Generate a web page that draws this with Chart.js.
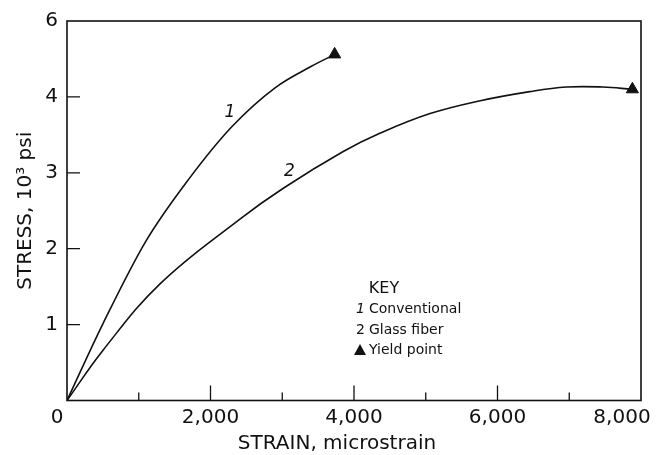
<!DOCTYPE html>
<html>
<head>
<meta charset="utf-8">
<script src="https://cdn.jsdelivr.net/npm/chart.js@4.4.1/dist/chart.umd.min.js"></script>
<style>
    body { margin: 0; background: #fff; }
    #wrap { width: 665px; height: 455px; }
</style>
</head>
<body>
<div id="wrap"><canvas id="stressChart" width="665" height="455"></canvas></div>
<script>
// Stress-strain curves, values
const conventionalStrain = [0, 500, 1100, 1700, 2300, 2900, 3400, 3730];
const conventionalStress = [0, 1.01, 2.10, 2.92, 3.61, 4.12, 4.40, 4.56];

const glassStrain = [0, 500, 1300, 2410, 3020, 3850, 4360, 5060, 5760, 6450, 6960, 7470, 7880];
const glassStress = [0, 0.66, 1.54, 2.39, 2.80, 3.28, 3.52, 3.78, 3.95, 4.07, 4.13, 4.13, 4.10];

// yield points (triangles)
const yieldStrain = [3730, 7880];
const yieldStress = [4.56, 4.10];

// curve numbers written next to the lines
const curveTagText = ['1', '2'];
const curveTagStrain = [2270, 3100];
const curveTagStress = [3.79, 3.02];

const keyNumbers = ['1', '2'];
const keyLabels = ['Conventional', 'Glass fiber', 'Yield point'];

const xMajorTicks = [0, 2000, 4000, 6000, 8000];
const xTickLabels = ['0', '2,000', '4,000', '6,000', '8,000'];
const xMinorTicks = [1000, 3000, 5000, 7000];
const yTickLabels = ['', '1', '2', '3', '4', '6']; // top one is printed "6" in the original

const ink = '#111';
const FONT = '"DejaVu Sans", sans-serif';

const toPoints = (xs, ys) => xs.map((v, i) => ({ x: v, y: ys[i] }));

// frame, inward ticks, x labels, curve numbers and the key
const decorPlugin = {
    id: 'decor',
    afterDraw(chart) {
        const { ctx, chartArea: a, scales: { x, y } } = chart;
        ctx.save();
        ctx.strokeStyle = ink;
        ctx.fillStyle = ink;
        ctx.lineWidth = 1.6;
        ctx.strokeRect(a.left, a.top, a.right - a.left, a.bottom - a.top);

        // ticks point into the plot
        ctx.lineWidth = 1.3;
        ctx.beginPath();
        xMajorTicks.forEach(v => {
            if (v <= x.min || v >= x.max) return;
            const px = x.getPixelForValue(v);
            ctx.moveTo(px, a.bottom);
            ctx.lineTo(px, a.bottom - 15);
        });
        xMinorTicks.forEach(v => {
            const px = x.getPixelForValue(v);
            ctx.moveTo(px, a.bottom);
            ctx.lineTo(px, a.bottom - 8);
        });
        for (let v = 1; v < y.max; v++) {
            const py = y.getPixelForValue(v);
            ctx.moveTo(a.left, py);
            ctx.lineTo(a.left + 13, py);
        }
        ctx.stroke();

        // x tick labels (end ones nudged left like the print)
        ctx.font = '20px ' + FONT;
        ctx.textAlign = 'center';
        ctx.textBaseline = 'middle';
        xMajorTicks.forEach((v, i) => {
            let px = x.getPixelForValue(v);
            if (i === 0) px -= 10;
            if (i === xMajorTicks.length - 1) px -= 19;
            ctx.fillText(xTickLabels[i], px, a.bottom + 17);
        });

        // x axis title
        ctx.fillText('STRAIN, microstrain', 337, 444);

        // curve numbers
        ctx.font = 'italic 17px ' + FONT;
        curveTagText.forEach((t, i) => {
            ctx.fillText(t, x.getPixelForValue(curveTagStrain[i]), y.getPixelForValue(curveTagStress[i]));
        });

        // key
        const kx = a.left + 289;
        const ky = a.top + 268;
        ctx.font = '16px ' + FONT;
        ctx.fillText('KEY', kx + 28, ky);
        ctx.textAlign = 'left';
        const rows = [ky + 20, ky + 41, ky + 61];
        keyNumbers.forEach((n, i) => {
            ctx.font = (i === 0 ? 'italic ' : '') + '14px ' + FONT;
            ctx.fillText(n, kx, rows[i]);
        });
        ctx.font = '14px ' + FONT;
        keyLabels.forEach((t, i) => ctx.fillText(t, kx + 13, rows[i]));
        // triangle symbol for yield point
        const tx = kx + 4, ty = rows[2];
        ctx.beginPath();
        ctx.moveTo(tx, ty - 6);
        ctx.lineTo(tx + 6, ty + 5);
        ctx.lineTo(tx - 6, ty + 5);
        ctx.closePath();
        ctx.fill();
        ctx.restore();
    }
};

new Chart(document.getElementById('stressChart'), {
    type: 'line',
    data: {
        datasets: [
            {
                label: 'Conventional',
                data: toPoints(conventionalStrain, conventionalStress),
                borderColor: ink,
                borderWidth: 1.6,
                pointRadius: 0,
                cubicInterpolationMode: 'monotone',
                fill: false
            },
            {
                label: 'Glass fiber',
                data: toPoints(glassStrain, glassStress),
                borderColor: ink,
                borderWidth: 1.6,
                pointRadius: 0,
                tension: 0.4,
                fill: false
            },
            {
                label: 'Yield point',
                type: 'scatter',
                data: toPoints(yieldStrain, yieldStress),
                pointStyle: 'triangle',
                pointRadius: 7,
                backgroundColor: ink,
                borderColor: ink,
                borderWidth: 1,
                showLine: false
            }
        ]
    },
    options: {
        responsive: false,
        animation: false,
        layout: { padding: { top: 17, right: 24, left: 0, bottom: 0 } },
        plugins: {
            legend: { display: false },
            tooltip: { enabled: false }
        },
        scales: {
            x: {
                type: 'linear',
                min: 0,
                max: 8000,
                grid: { display: false, drawTicks: false },
                border: { display: false },
                ticks: { display: false },
                afterFit(scale) {
                    scale.height = 54.5;
                    scale.paddingLeft = 0;
                    scale.paddingRight = 0;
                }
            },
            y: {
                min: 0,
                max: 5,
                grid: { display: false, drawTicks: false },
                border: { display: false },
                ticks: {
                    stepSize: 1,
                    padding: 9,
                    color: ink,
                    font: { family: FONT, size: 20 },
                    callback: (v) => yTickLabels[v]
                },
                title: {
                    display: true,
                    text: 'STRESS, 10³ psi',
                    color: ink,
                    font: { family: FONT, size: 20 },
                    padding: { top: 14, bottom: 0 }
                },
                afterFit(scale) {
                    scale.width = 67;
                }
            }
        }
    },
    plugins: [decorPlugin]
});
</script>
</body>
</html>
